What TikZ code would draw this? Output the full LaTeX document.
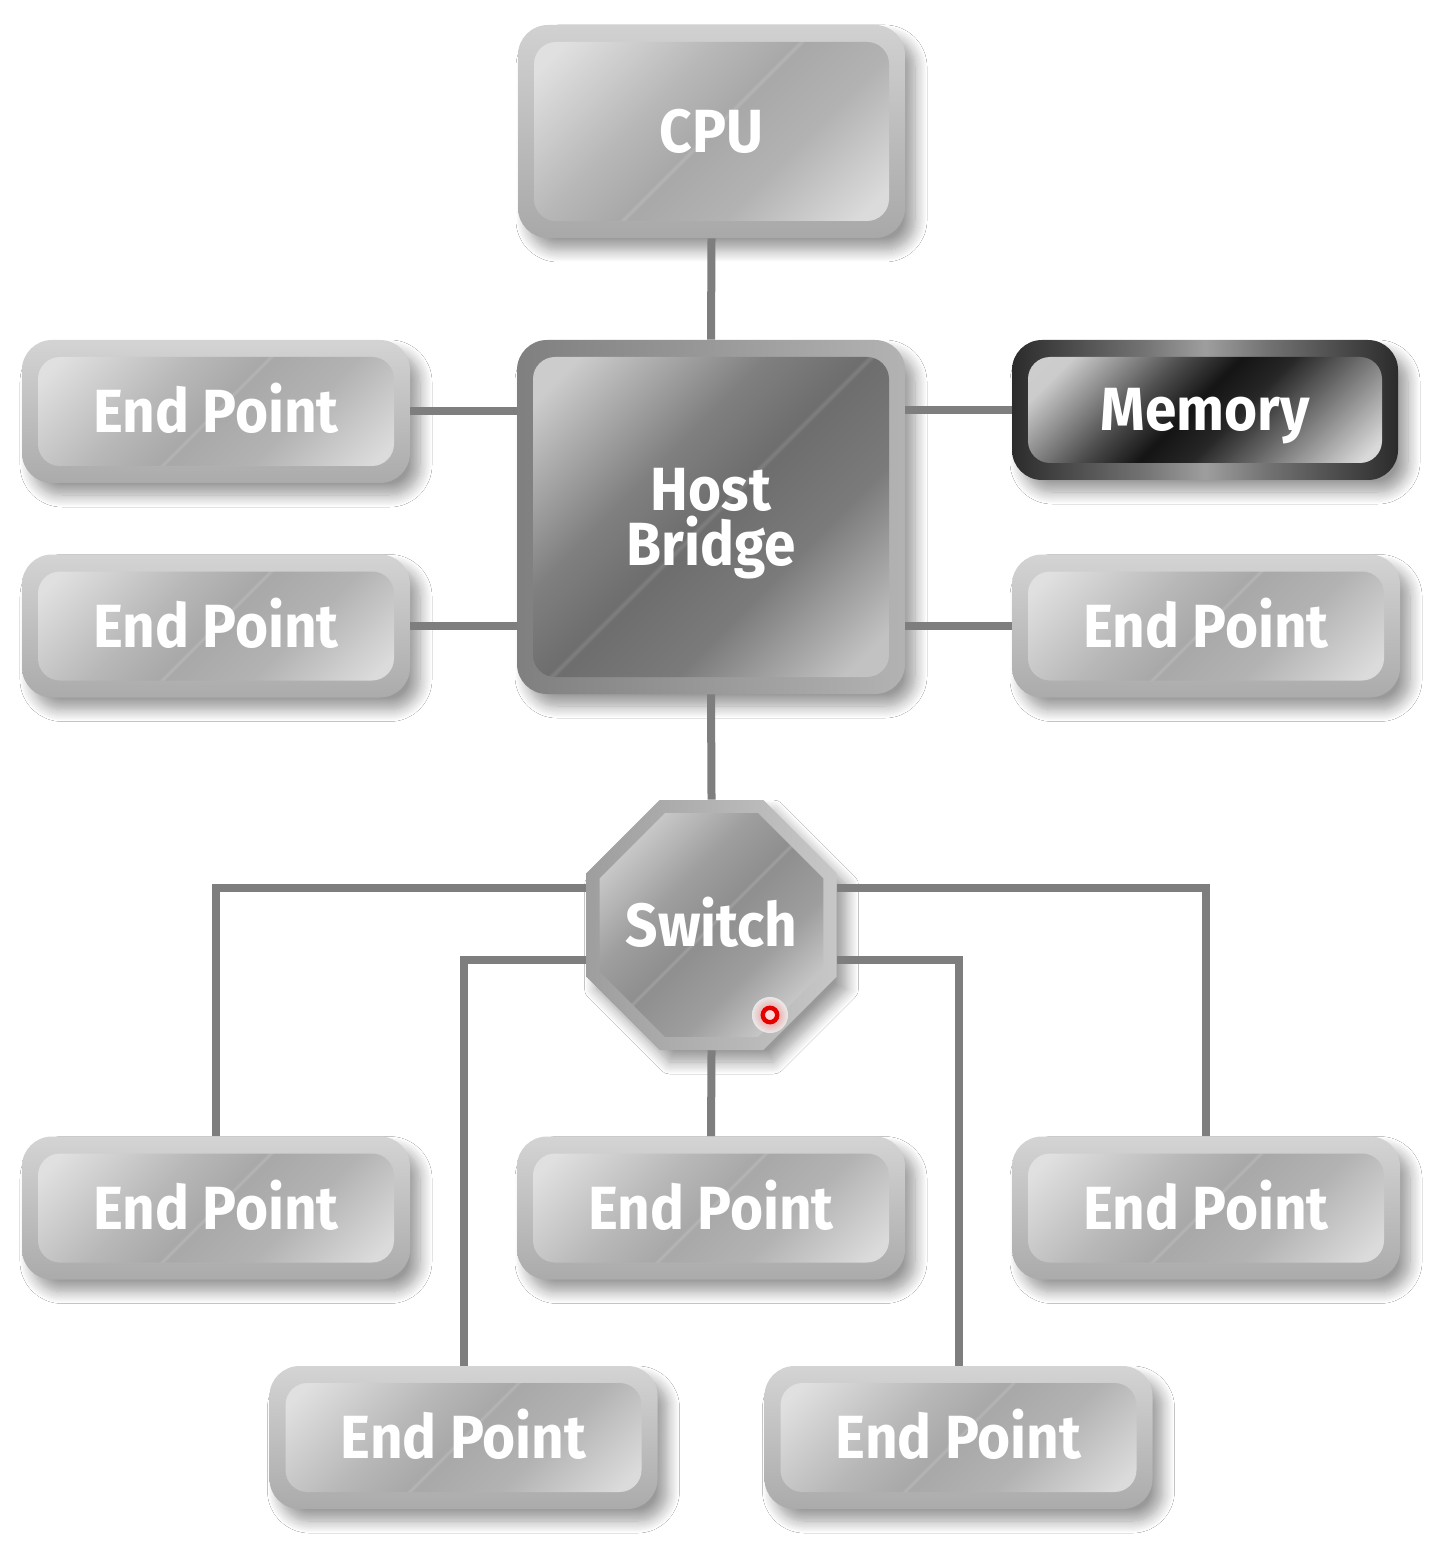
\documentclass[tikz,border=0pt]{standalone}
\usepackage{fontspec}
\newfontfamily\lbl{Fira Sans}[FakeStretch=0.93]
\usetikzlibrary{shapes.geometric,shadows.blur,calc}

\pgfdeclarehorizontalshading{epface}{100bp}{rgb(0bp)=(.88,.88,.88); rgb(22bp)=(.88,.88,.88); rgb(40bp)=(.72,.72,.72); rgb(49.5bp)=(.66,.66,.66); rgb(50bp)=(.71,.71,.71); rgb(50.5bp)=(.66,.66,.66); rgb(62bp)=(.70,.70,.70); rgb(78bp)=(.86,.86,.86); rgb(100bp)=(.86,.86,.86)}
\pgfdeclarehorizontalshading{hbface}{100bp}{rgb(0bp)=(.80,.80,.80); rgb(22bp)=(.80,.80,.80); rgb(40bp)=(.50,.50,.50); rgb(49.5bp)=(.43,.43,.43); rgb(50bp)=(.50,.50,.50); rgb(50.5bp)=(.43,.43,.43); rgb(62bp)=(.48,.48,.48); rgb(78bp)=(.76,.76,.76); rgb(100bp)=(.76,.76,.76)}
\pgfdeclarehorizontalshading{memface}{100bp}{rgb(0bp)=(.82,.82,.82); rgb(25bp)=(.80,.80,.80); rgb(40bp)=(.30,.30,.30); rgb(48bp)=(.08,.08,.08); rgb(55bp)=(.15,.15,.15); rgb(65bp)=(.45,.45,.45); rgb(78bp)=(.85,.85,.85); rgb(100bp)=(.85,.85,.85)}
\pgfdeclarehorizontalshading{memrim}{100bp}{rgb(0bp)=(.17,.17,.17); rgb(25bp)=(.17,.17,.17); rgb(42bp)=(.45,.45,.45); rgb(50bp)=(.62,.62,.62); rgb(58bp)=(.45,.45,.45); rgb(75bp)=(.17,.17,.17); rgb(100bp)=(.17,.17,.17)}
\pgfdeclarehorizontalshading{swface}{100bp}{rgb(0bp)=(.85,.85,.85); rgb(22bp)=(.85,.85,.85); rgb(40bp)=(.62,.62,.62); rgb(49.5bp)=(.56,.56,.56); rgb(50bp)=(.63,.63,.63); rgb(50.5bp)=(.56,.56,.56); rgb(62bp)=(.62,.62,.62); rgb(78bp)=(.86,.86,.86); rgb(100bp)=(.86,.86,.86)}

\definecolor{connc}{HTML}{7E7E7E}

\tikzset{
  shad/.style={blur shadow={shadow xshift=5pt, shadow yshift=-6pt, shadow blur radius=6pt, shadow opacity=40, shadow blur steps=12}},
  lbltext/.style={font=\lbl\bfseries\fontsize{30.5}{27.5}\selectfont, text=white, align=center,
      text height=21pt, text depth=0pt},
  rectface/.style={path picture={\shade[shading=#1, shading angle=-45, rounded corners=11pt]
      ([xshift=8pt,yshift=-8.5pt]path picture bounding box.north west) rectangle
      ([xshift=-8pt,yshift=8.5pt]path picture bounding box.south east);}},
  boxbase/.style={rectangle, rounded corners=15pt, inner sep=0pt, shad, lbltext},
  epbox/.style={boxbase, minimum width=194pt, minimum height=71.5pt,
      top color=black!17, bottom color=black!33, rectface=epface},
  cpubox/.style={boxbase, minimum width=193.5pt, minimum height=106.5pt,
      top color=black!18, bottom color=black!34, rectface=epface},
  hbbox/.style={boxbase, minimum width=194pt, minimum height=177pt, text height=48.5pt,
      left color=black!50, right color=black!30, rectface=hbface},
  membox/.style={boxbase, minimum width=193pt, minimum height=70pt,
      shading=memrim, rectface=memface},
  swbox/.style={regular polygon, regular polygon sides=8, minimum size=135.3pt, inner sep=0pt,
      shad, lbltext, left color=black!38, right color=black!22,
      path picture={\shade[shading=swface, shading angle=-45]
        ([shift={(22.5:60.6pt)}]path picture bounding box.center) --
        ([shift={(67.5:60.6pt)}]path picture bounding box.center) --
        ([shift={(112.5:60.6pt)}]path picture bounding box.center) --
        ([shift={(157.5:60.6pt)}]path picture bounding box.center) --
        ([shift={(202.5:60.6pt)}]path picture bounding box.center) --
        ([shift={(247.5:60.6pt)}]path picture bounding box.center) --
        ([shift={(292.5:60.6pt)}]path picture bounding box.center) --
        ([shift={(337.5:60.6pt)}]path picture bounding box.center) -- cycle;}},
  conn/.style={draw=connc, line width=4pt}
}

\begin{document}
\begin{tikzpicture}[x=0.5pt,y=-0.5pt]
\useasboundingbox[fill=white] (0,0) rectangle (1439,1550);

% nodes
\node[cpubox] (cpu) at (711.5,131.5) {CPU};
\node[hbbox] (hb) at (711,517) {Host\\Bridge};
\node[epbox] (epl1) at (216,411.5) {End Point};
\node[epbox] (epl2) at (216,626) {End Point};
\node[membox] (mem) at (1205,410) {Memory};
\node[epbox] (epr2) at (1206,626) {End Point};
\node[swbox] (sw) at (711.5,925) {Switch};
\node[epbox] (b1) at (216,1208) {End Point};
\node[epbox] (b2) at (711,1208) {End Point};
\node[epbox] (b3) at (1206,1208) {End Point};
\node[epbox] (c1) at (463.5,1437.5) {End Point};
\node[epbox] (c2) at (958.5,1437.5) {End Point};

% connectors
\draw[conn] (cpu.south) -- (hb.north);
\draw[conn] (epl1.east) -- (epl1.east -| hb.west);
\draw[conn] (epl2.east) -- (epl2.east -| hb.west);
\draw[conn] (mem.west) -- (mem.west -| hb.east);
\draw[conn] (epr2.west) -- (epr2.west -| hb.east);
\draw[conn] (hb.south) -- (sw.north);
\draw[conn] (sw.south) -- (b2.north);
\draw[conn] ([yshift=18.5pt]sw.west) -| (b1.north);
\draw[conn] ([yshift=-17.5pt]sw.west) -| (c1.north);
\draw[conn] ([yshift=18.5pt]sw.east) -| (b3.north);
\draw[conn] ([yshift=-17.5pt]sw.east) -| (c2.north);

% red indicator on the switch
\shade[inner color=red!60, outer color=white!0, opacity=0.7] (770,1015) circle (9pt);
\draw[red!90!black, line width=2.2pt, fill=white!85!red] (770,1015) circle (3.6pt);
\end{tikzpicture}
\end{document}
